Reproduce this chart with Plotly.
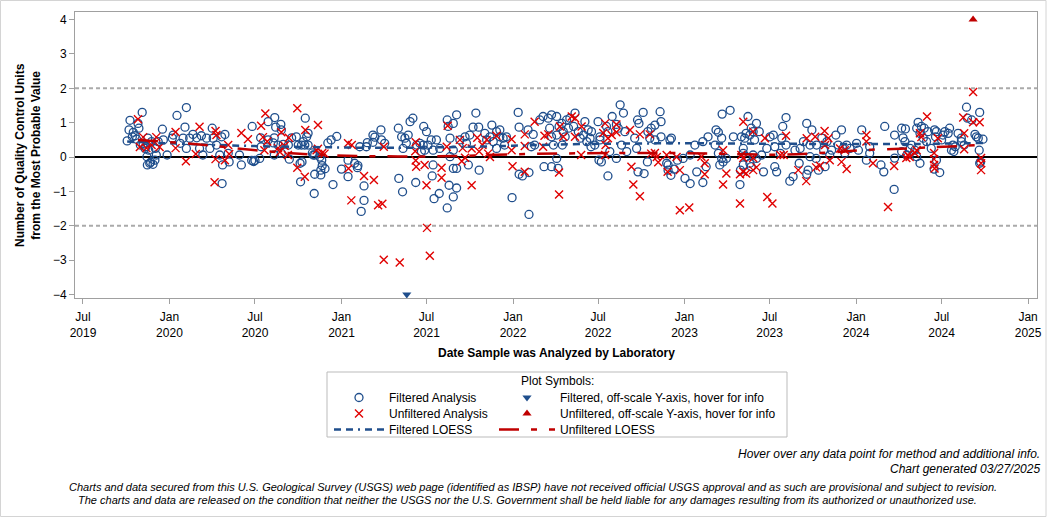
import plotly.graph_objects as go

# ---------------- data ----------------
filtered_points = [
    ("2019-10-03", 0.47), ("2019-10-07", 0.79), ("2019-10-09", 1.07), ("2019-10-14", 0.59), ("2019-10-16", 0.72),
    ("2019-10-20", 0.62), ("2019-10-23", 0.52), ("2019-10-26", 0.98), ("2019-10-28", 0.84), ("2019-10-31", 0.35),
    ("2019-11-04", 1.30), ("2019-11-06", 0.38), ("2019-11-10", 0.25), ("2019-11-12", 0.30), ("2019-11-14", 0.01),
    ("2019-11-15", -0.23), ("2019-11-16", 0.55), ("2019-11-18", 0.20), ("2019-11-20", -0.18), ("2019-11-22", -0.15),
    ("2019-11-24", 0.45), ("2019-11-27", -0.21), ("2019-12-01", -0.09), ("2019-12-02", 0.25), ("2019-12-04", 0.06),
    ("2019-12-08", 0.45), ("2019-12-17", 0.81), ("2019-12-19", 0.50), ("2019-12-27", 0.06),
    ("2020-01-07", 0.55), ("2020-01-09", 0.64), ("2020-01-17", 1.21), ("2020-01-24", 0.40), ("2020-01-30", 0.55),
    ("2020-02-03", 0.87), ("2020-02-06", 1.44), ("2020-02-06", 0.25), ("2020-02-13", 0.55), ("2020-02-20", 0.66),
    ("2020-02-28", 0.56), ("2020-03-05", 0.25), ("2020-03-09", 0.62), ("2020-03-12", 0.06), ("2020-03-20", 0.55),
    ("2020-03-27", 0.25), ("2020-04-01", 0.84), ("2020-04-03", 0.55), ("2020-04-10", 0.35), ("2020-04-17", 0.06),
    ("2020-04-21", 0.59), ("2020-04-22", -0.77), ("2020-04-23", -0.23), ("2020-04-28", 0.66), ("2020-05-05", 0.11),
    ("2020-05-07", -0.14), ("2020-05-29", 0.06), ("2020-06-02", -0.23),
    ("2020-06-24", -0.10), ("2020-06-25", 0.89), ("2020-06-28", -0.13), ("2020-07-01", -0.10), ("2020-07-11", -0.04),
    ("2020-07-13", 0.56), ("2020-07-14", 0.30), ("2020-07-29", 1.03), ("2020-07-29", 0.50), ("2020-08-09", 0.41),
    ("2020-08-11", 0.56), ("2020-08-11", 0.06), ("2020-08-12", 1.15), ("2020-08-14", 0.87), ("2020-08-19", 0.35),
    ("2020-08-25", 0.95), ("2020-08-26", 0.79), ("2020-08-26", 0.11), ("2020-08-30", 0.37), ("2020-09-10", 0.35),
    ("2020-09-12", -0.06), ("2020-09-17", 0.56), ("2020-09-27", 0.59), ("2020-10-01", 0.35), ("2020-10-05", -0.18),
    ("2020-10-06", -0.72), ("2020-10-08", 0.35), ("2020-10-09", -0.14), ("2020-10-12", 0.45), ("2020-10-15", 0.35),
    ("2020-10-16", 1.13), ("2020-10-19", 0.59), ("2020-10-22", 0.35), ("2020-10-22", 0.69), ("2020-10-31", 0.12),
    ("2020-11-02", 0.06), ("2020-11-04", -1.06), ("2020-11-05", 0.06), ("2020-11-05", -0.50), ("2020-11-16", 0.00),
    ("2020-11-18", -0.38), ("2020-11-18", -0.52), ("2020-11-20", -0.09), ("2020-11-21", -0.25), ("2020-11-27", -0.34),
    ("2020-12-03", 0.41), ("2020-12-10", 0.50), ("2020-12-14", -0.80), ("2020-12-22", 0.60),
    ("2021-01-01", -0.35), ("2021-01-15", -0.09), ("2021-01-15", -0.57), ("2021-01-29", -0.18), ("2021-02-04", -0.31),
    ("2021-02-05", -0.25), ("2021-02-09", 0.30), ("2021-02-12", -1.58), ("2021-02-18", -0.84), ("2021-02-18", -1.26),
    ("2021-02-23", 0.30), ("2021-02-25", 0.42), ("2021-03-09", 0.43), ("2021-03-09", 0.64), ("2021-03-13", 0.58),
    ("2021-03-26", 0.79), ("2021-03-27", 0.50), ("2021-04-03", 0.40),
    ("2021-05-02", 0.84), ("2021-05-03", -0.62), ("2021-05-09", 0.59), ("2021-05-11", -1.01), ("2021-05-12", 0.25),
    ("2021-05-16", 0.55), ("2021-05-19", 0.40), ("2021-05-23", 0.64), ("2021-05-27", 1.03), ("2021-06-02", 1.13),
    ("2021-06-08", -0.74), ("2021-06-10", 0.35), ("2021-06-17", 0.40), ("2021-06-20", 0.16), ("2021-06-24", 0.35),
    ("2021-06-25", 0.89), ("2021-06-27", 0.20), ("2021-07-01", 0.74), ("2021-07-04", 0.35), ("2021-07-11", 0.50),
    ("2021-07-13", -0.55), ("2021-07-15", 0.20), ("2021-07-15", -0.23), ("2021-07-17", -1.21), ("2021-07-22", 0.50),
    ("2021-07-28", -1.06), ("2021-07-29", 0.25), ("2021-08-14", 1.08), ("2021-08-14", -1.48), ("2021-08-16", 0.89),
    ("2021-08-18", -0.82), ("2021-08-20", 0.55), ("2021-08-20", 0.01), ("2021-08-27", 0.98), ("2021-08-27", 0.20),
    ("2021-08-27", -0.33), ("2021-08-27", -1.16), ("2021-09-03", 1.23), ("2021-09-03", -0.33), ("2021-09-03", -0.90),
    ("2021-09-10", 0.50), ("2021-09-21", 0.59), ("2021-09-24", 0.40), ("2021-09-28", -0.23), ("2021-10-01", 0.64),
    ("2021-10-08", 0.87), ("2021-10-14", 1.28), ("2021-10-20", 0.87), ("2021-10-21", -0.38), ("2021-11-02", 0.69),
    ("2021-11-06", 0.50), ("2021-11-13", 0.59), ("2021-11-17", 0.93), ("2021-11-20", 0.45), ("2021-11-27", 0.74),
    ("2021-11-27", 0.25), ("2021-12-04", 0.79), ("2021-12-04", 0.59), ("2021-12-11", 0.55), ("2021-12-14", 0.35),
    ("2021-12-18", 0.59), ("2021-12-30", -1.18),
    ("2022-01-12", 1.30), ("2022-01-14", 0.87), ("2022-01-14", -0.50), ("2022-01-21", -0.55), ("2022-02-02", 0.79),
    ("2022-02-04", -1.67), ("2022-02-04", -0.45), ("2022-02-09", 0.30), ("2022-02-13", 0.66), ("2022-02-16", 0.35),
    ("2022-02-27", 1.08), ("2022-03-06", 1.18), ("2022-03-08", -0.28), ("2022-03-17", 1.13), ("2022-03-20", 0.84),
    ("2022-03-24", 1.23), ("2022-03-24", 0.59), ("2022-03-24", -0.28), ("2022-03-28", 0.35),
    ("2022-04-04", 1.18), ("2022-04-04", 0.64), ("2022-04-04", -0.04), ("2022-04-07", -0.33), ("2022-04-09", 0.89),
    ("2022-04-15", 0.98), ("2022-04-16", 0.35), ("2022-04-18", 0.74), ("2022-04-22", 0.59), ("2022-04-25", 1.08),
    ("2022-04-29", 0.84), ("2022-05-02", 1.13), ("2022-05-10", 0.89), ("2022-05-13", 1.28), ("2022-05-20", 0.74),
    ("2022-05-24", 0.55), ("2022-05-31", 0.64), ("2022-06-03", 1.03), ("2022-06-07", 0.45), ("2022-06-10", 0.79),
    ("2022-06-14", 0.55), ("2022-06-16", 0.30), ("2022-06-17", 0.74), ("2022-06-24", 0.35), ("2022-07-01", 1.03),
    ("2022-07-03", -0.09), ("2022-07-05", 0.59), ("2022-07-05", 0.50), ("2022-07-08", -0.14), ("2022-07-19", 0.89),
    ("2022-07-22", 0.74), ("2022-07-22", -0.55), ("2022-07-26", 0.16), ("2022-07-31", 1.18), ("2022-08-09", 0.95),
    ("2022-08-09", -0.04), ("2022-08-13", 0.84), ("2022-08-17", 1.52), ("2022-08-20", 0.35), ("2022-08-24", 1.28),
    ("2022-08-27", 0.74), ("2022-08-31", 0.16), ("2022-09-17", 0.55), ("2022-09-21", 0.25), ("2022-09-23", 1.08),
    ("2022-09-24", -0.43), ("2022-09-26", 0.98), ("2022-10-05", 1.30), ("2022-10-07", -0.48), ("2022-10-14", -0.14),
    ("2022-10-15", 0.74), ("2022-10-19", 0.55), ("2022-10-22", 0.84), ("2022-10-30", 0.93), ("2022-10-30", 0.50),
    ("2022-11-10", 1.32), ("2022-11-12", 1.03), ("2022-11-12", 0.59), ("2022-11-24", -0.18), ("2022-11-27", -0.23),
    ("2022-11-27", -0.38), ("2022-12-01", 0.50), ("2022-12-03", -0.53), ("2022-12-04", 0.55), ("2022-12-10", -0.35),
    ("2022-12-17", -0.09), ("2022-12-29", -0.04),
    ("2023-01-02", -0.62), ("2023-01-13", -0.77), ("2023-01-13", 0.06), ("2023-01-23", 0.35), ("2023-01-27", -0.43),
    ("2023-02-09", 0.45), ("2023-02-09", -0.74), ("2023-02-16", -0.28), ("2023-02-20", 0.59), ("2023-03-07", 0.35),
    ("2023-03-09", 0.79), ("2023-03-14", 0.72), ("2023-03-14", 0.11), ("2023-03-17", -0.23), ("2023-03-21", 0.55),
    ("2023-03-21", -0.04), ("2023-03-22", 1.25), ("2023-03-24", -0.14), ("2023-03-31", -0.04), ("2023-04-08", 1.36),
    ("2023-04-15", 0.59), ("2023-04-29", -0.80), ("2023-04-30", -0.38), ("2023-05-02", 0.59), ("2023-05-06", 0.25),
    ("2023-05-06", 0.11), ("2023-05-06", -0.23), ("2023-05-09", 0.55), ("2023-05-12", 0.69), ("2023-05-12", 0.01),
    ("2023-05-16", 1.18), ("2023-05-20", 0.64), ("2023-05-20", -0.18), ("2023-05-23", 0.84), ("2023-05-23", -0.28),
    ("2023-05-27", 0.74), ("2023-05-27", 0.06), ("2023-05-30", 0.50), ("2023-06-03", 0.98), ("2023-06-03", -0.04),
    ("2023-06-09", 0.74), ("2023-06-14", 0.06), ("2023-06-18", -0.43), ("2023-06-25", 0.25), ("2023-07-02", 0.59),
    ("2023-07-09", 0.64), ("2023-07-12", 0.30), ("2023-07-12", -0.28), ("2023-07-16", -0.43), ("2023-07-24", 0.11),
    ("2023-07-27", 0.55), ("2023-07-29", 0.89), ("2023-08-05", 1.15), ("2023-08-05", 0.35), ("2023-08-13", -0.70),
    ("2023-08-20", -0.57), ("2023-08-24", 0.20), ("2023-09-02", -0.18), ("2023-09-04", 0.25), ("2023-09-11", 0.45),
    ("2023-09-18", 0.98), ("2023-09-18", -0.50), ("2023-09-21", -0.38), ("2023-09-25", 0.35), ("2023-09-25", 0.01),
    ("2023-09-29", 0.79), ("2023-10-08", -0.04), ("2023-10-09", 0.35), ("2023-10-13", -0.38), ("2023-10-20", 0.55),
    ("2023-10-24", 0.20), ("2023-10-27", -0.28), ("2023-10-31", 0.45), ("2023-11-06", 0.06), ("2023-11-10", 0.20),
    ("2023-11-19", 0.64), ("2023-11-24", 0.35), ("2023-12-01", 0.79), ("2023-12-04", 0.25), ("2023-12-08", 0.11),
    ("2023-12-12", 0.35), ("2023-12-19", 0.25),
    ("2024-01-02", 0.40), ("2024-01-06", 0.20), ("2024-01-13", 0.79), ("2024-01-23", -0.09), ("2024-01-30", 0.30),
    ("2024-01-30", 0.11), ("2024-02-23", -0.23), ("2024-02-29", -0.43), ("2024-03-02", 0.89), ("2024-03-22", -0.94),
    ("2024-03-23", 0.64), ("2024-03-23", -0.03), ("2024-04-07", 0.84), ("2024-04-07", 0.16), ("2024-04-10", 0.56),
    ("2024-04-14", 0.45), ("2024-04-15", 0.82), ("2024-04-18", 0.06), ("2024-04-25", 0.25), ("2024-04-28", 0.35),
    ("2024-05-05", 0.20), ("2024-05-09", 0.01), ("2024-05-09", 0.84), ("2024-05-12", 1.01), ("2024-05-16", -0.18),
    ("2024-05-16", 0.69), ("2024-05-19", 0.89), ("2024-05-23", 0.55), ("2024-05-25", 0.84), ("2024-05-30", 0.45),
    ("2024-06-02", 0.74), ("2024-06-09", 0.25), ("2024-06-15", -0.35), ("2024-06-16", 0.79), ("2024-06-18", 0.59),
    ("2024-06-20", 0.74), ("2024-06-20", -0.09), ("2024-06-27", -0.45), ("2024-07-01", 0.50), ("2024-07-04", 0.64),
    ("2024-07-08", 0.74), ("2024-07-15", 0.69), ("2024-07-18", 0.84), ("2024-07-22", 0.20), ("2024-07-25", 0.35),
    ("2024-07-27", 0.16), ("2024-07-30", 0.30), ("2024-08-05", 0.69), ("2024-08-12", 0.55), ("2024-08-12", 0.45),
    ("2024-08-18", 0.35), ("2024-08-23", 1.45), ("2024-08-25", 1.13), ("2024-09-03", 1.08), ("2024-09-10", 0.66),
    ("2024-09-13", 0.59), ("2024-09-17", 0.55), ("2024-09-19", 0.20), ("2024-09-20", 1.30), ("2024-09-20", -0.18),
    ("2024-09-22", -0.14), ("2024-09-27", 0.52),
]

unfiltered_points = [
    ("2019-10-26", 1.10), ("2019-10-30", 0.29), ("2019-11-06", 0.58), ("2019-11-13", 0.26), ("2019-11-24", 0.35),
    ("2019-12-04", 0.58), ("2019-12-11", 0.29), ("2020-01-14", 0.73), ("2020-01-14", 0.26), ("2020-02-05", -0.12),
    ("2020-02-26", 0.09), ("2020-03-05", 0.88), ("2020-04-06", -0.73), ("2020-04-08", 0.76), ("2020-04-08", -0.06),
    ("2020-04-10", 0.64), ("2020-04-28", -0.09), ("2020-05-05", 0.35), ("2020-05-07", 0.09), ("2020-06-02", 0.70),
    ("2020-06-16", 0.52), ("2020-07-14", 0.91), ("2020-07-18", 0.58), ("2020-07-21", 0.20), ("2020-07-23", 1.27),
    ("2020-07-27", 0.45), ("2020-08-19", 0.26), ("2020-08-23", 0.15), ("2020-08-26", 0.72), ("2020-09-02", 0.33),
    ("2020-09-09", 0.06), ("2020-09-11", 0.56), ("2020-09-29", 1.42), ("2020-09-29", -0.31), ("2020-10-15", -0.57),
    ("2020-10-16", 0.79), ("2020-11-09", 0.20), ("2020-11-12", 0.93), ("2020-11-12", 0.24), ("2020-11-21", 0.12),
    ("2020-11-26", 0.10),
    ("2021-01-15", 0.40), ("2021-01-16", -0.33), ("2021-01-22", -1.26), ("2021-01-23", 0.35), ("2021-02-18", -0.55),
    ("2021-03-11", -0.67), ("2021-03-20", -1.40), ("2021-03-29", -1.36), ("2021-04-01", 0.30), ("2021-04-01", -2.99),
    ("2021-05-05", -3.07), ("2021-06-07", 0.17), ("2021-06-08", 0.43), ("2021-06-08", -0.10), ("2021-06-09", -0.28),
    ("2021-06-27", -0.23), ("2021-07-01", -0.82), ("2021-07-02", -2.06), ("2021-07-08", -2.87), ("2021-08-02", -0.31),
    ("2021-08-02", -0.60), ("2021-08-13", 0.30), ("2021-08-15", 0.91), ("2021-09-10", 0.50), ("2021-09-14", -0.12),
    ("2021-09-16", 0.26), ("2021-09-21", -0.02), ("2021-10-05", 0.25), ("2021-10-05", -0.82), ("2021-10-17", 0.56),
    ("2021-10-21", 0.16), ("2021-10-28", 0.35), ("2021-11-06", 0.50), ("2021-11-09", 0.10), ("2021-11-13", 0.00),
    ("2021-11-27", 0.62), ("2021-12-29", 0.52), ("2021-12-29", 0.20), ("2021-12-31", -0.27),
    ("2022-01-26", 0.66), ("2022-01-26", 0.32), ("2022-01-26", -0.43), ("2022-02-16", 1.03), ("2022-03-06", 0.30),
    ("2022-03-09", 0.62), ("2022-03-17", 0.66), ("2022-04-09", -0.45), ("2022-04-09", -1.09), ("2022-04-11", 0.89),
    ("2022-04-18", 0.59), ("2022-05-06", 1.18), ("2022-05-13", 1.13), ("2022-05-13", 0.59), ("2022-05-26", 0.06),
    ("2022-05-27", 0.89), ("2022-07-12", 0.70), ("2022-07-16", 0.98), ("2022-07-16", 0.06), ("2022-07-17", 0.35),
    ("2022-07-22", 0.55), ("2022-07-30", 0.64), ("2022-08-09", 0.95), ("2022-08-09", 0.72), ("2022-09-07", 0.79),
    ("2022-09-10", -0.28), ("2022-09-14", -0.80), ("2022-09-28", 0.66), ("2022-09-28", -1.14), ("2022-10-19", 0.66),
    ("2022-10-22", 0.10), ("2022-10-30", 0.12), ("2022-11-03", 0.00), ("2022-11-06", -0.15), ("2022-11-24", 0.06),
    ("2022-11-26", -0.43), ("2022-12-15", 0.00), ("2022-12-22", -0.38), ("2022-12-22", -1.55),
    ("2023-01-11", -1.47), ("2023-02-06", 0.01), ("2023-02-13", -0.18), ("2023-02-13", -0.50), ("2023-03-24", 0.20),
    ("2023-03-24", -0.80), ("2023-03-31", -0.48), ("2023-04-29", -0.50), ("2023-04-29", -1.35), ("2023-05-02", 0.06),
    ("2023-05-06", 1.03), ("2023-05-06", -0.03), ("2023-05-06", -0.43), ("2023-05-12", -0.48), ("2023-05-27", 0.74),
    ("2023-05-27", -0.03), ("2023-05-27", -0.38), ("2023-06-03", -0.30), ("2023-06-21", 0.55), ("2023-06-26", -1.16),
    ("2023-07-07", -1.35), ("2023-07-24", 0.06), ("2023-07-31", 0.06), ("2023-08-05", 0.62), ("2023-08-31", -0.38),
    ("2023-09-17", -0.70), ("2023-09-18", 0.55), ("2023-10-06", 0.59), ("2023-10-08", -0.30), ("2023-10-16", -0.25),
    ("2023-10-26", 0.76), ("2023-10-27", 0.35), ("2023-11-03", 0.55), ("2023-11-06", -0.09), ("2023-11-28", 0.25),
    ("2023-12-01", -0.14), ("2023-12-08", 0.20), ("2023-12-12", -0.35),
    ("2024-01-23", 0.64), ("2024-01-23", 0.45), ("2024-02-06", -0.18), ("2024-03-09", -1.45), ("2024-03-22", -0.26),
    ("2024-04-17", -0.03), ("2024-04-20", 0.06), ("2024-04-24", 0.00), ("2024-05-05", 0.12), ("2024-05-09", 0.20),
    ("2024-05-16", 0.69), ("2024-05-19", 0.58), ("2024-05-31", 1.18), ("2024-06-15", 0.12), ("2024-06-15", -0.06),
    ("2024-06-15", -0.23), ("2024-06-16", -0.33), ("2024-06-23", 0.55), ("2024-08-16", 1.15), ("2024-08-18", 0.69),
    ("2024-08-18", 0.23), ("2024-09-06", 1.01), ("2024-09-06", 1.89), ("2024-09-20", 1.01), ("2024-09-23", -0.03),
    ("2024-09-23", -0.18), ("2024-09-23", -0.38),
]

# off-scale points, shown pinned at the axis limit
offscale_filtered_dates = ["2021-05-20"]
offscale_filtered_values = [-4.0]
offscale_unfiltered_dates = ["2024-09-06"]
offscale_unfiltered_values = [4.0]

# LOESS curves
loess_filtered_dates = ["2019-10-03", "2020-01-01", "2020-06-01", "2020-11-01", "2021-04-01", "2021-09-01",
                        "2022-01-01", "2022-06-01", "2022-12-01", "2023-06-01", "2023-12-01", "2024-05-01", "2024-09-27"]
loess_filtered_values = [0.45, 0.40, 0.33, 0.29, 0.27, 0.29, 0.33, 0.38, 0.40, 0.39, 0.38, 0.38, 0.41]
loess_unfiltered_dates = ["2019-10-26", "2020-03-10", "2020-08-01", "2020-12-15", "2021-05-01", "2021-09-01",
                          "2022-01-01", "2022-06-01", "2022-12-01", "2023-04-01", "2023-08-01", "2023-11-01",
                          "2024-01-15", "2024-05-01", "2024-09-23"]
loess_unfiltered_values = [0.50, 0.36, 0.16, 0.05, 0.02, 0.03, 0.08, 0.11, 0.12, 0.09, 0.07, 0.13, 0.20, 0.26, 0.35]

x_tick_dates = ["2019-07-01", "2020-01-01", "2020-07-01", "2021-01-01", "2021-07-01", "2022-01-01",
                "2022-07-01", "2023-01-01", "2023-07-01", "2024-01-01", "2024-07-01", "2025-01-01"]
x_tick_labels = ["Jul<br>2019", "Jan<br>2020", "Jul<br>2020", "Jan<br>2021", "Jul<br>2021", "Jan<br>2022",
                 "Jul<br>2022", "Jan<br>2023", "Jul<br>2023", "Jan<br>2024", "Jul<br>2024", "Jan<br>2025"]
y_tick_values = [-4, -3, -2, -1, 0, 1, 2, 3, 4]

# ---------------- styling ----------------
BLUE = "#1f4e8c"
RED = "#e00000"
DRED = "#c00000"
AXIS = "#a0a0a0"
FONT = "Liberation Sans, Arial, Helvetica, sans-serif"

# plot area in pixels (for paper-coordinate conversions)
L, R, T, B, W, H = 75, 19, 12, 220, 1056, 518
PW, PH = W - L - R, H - T - B


def px(xp):
    return (xp - L) / PW


def py(yp):
    return (H - B - yp) / PH


fd = [d for d, _ in filtered_points]
fv = [v for _, v in filtered_points]
ud = [d for d, _ in unfiltered_points]
uv = [v for _, v in unfiltered_points]

fig = go.Figure()
fig.add_trace(go.Scatter(
    x=fd, y=fv, mode="markers", name="Filtered Analysis", legend="legend",
    marker=dict(symbol="circle-open", size=8, color=BLUE, line=dict(width=1.3, color=BLUE))))
fig.add_trace(go.Scatter(
    x=ud, y=uv, mode="markers", name="Unfiltered Analysis", legend="legend3",
    marker=dict(symbol="x-thin-open", size=8, color=RED, line=dict(width=1.4, color=RED))))
fig.add_trace(go.Scatter(
    x=loess_filtered_dates, y=loess_filtered_values, mode="lines", name="Filtered LOESS", legend="legend5",
    line=dict(color=BLUE, width=2.5, dash="7px,5px,7px,5px,2px,5px", shape="spline")))
fig.add_trace(go.Scatter(
    x=offscale_filtered_dates, y=offscale_filtered_values, mode="markers", cliponaxis=False,
    name="Filtered, off-scale Y-axis, hover for info", legend="legend2",
    marker=dict(symbol="triangle-down", size=8, color=BLUE)))
fig.add_trace(go.Scatter(
    x=offscale_unfiltered_dates, y=offscale_unfiltered_values, mode="markers", cliponaxis=False,
    name="Unfiltered, off-scale Y-axis, hover for info", legend="legend4",
    marker=dict(symbol="triangle-up", size=8, color=DRED)))
fig.add_trace(go.Scatter(
    x=loess_unfiltered_dates, y=loess_unfiltered_values, mode="lines", name="Unfiltered LOESS", legend="legend6",
    line=dict(color=DRED, width=2.5, dash="20px,12px,6px,12px", shape="spline")))


def legend_at(x_px, row_center_px, item_w):
    return dict(orientation="v", bgcolor="rgba(0,0,0,0)", borderwidth=0, itemwidth=item_w,
                font=dict(family=FONT, size=12, color="black"), xanchor="left", yanchor="top",
                x=px(x_px), y=py(row_center_px - 14), itemclick=False, itemdoubleclick=False)


shapes = [
    dict(type="line", xref="paper", yref="y", x0=0, x1=1, y0=2, y1=2, layer="below",
         line=dict(color="#aaaaaa", width=2, dash="4px,3px")),
    dict(type="line", xref="paper", yref="y", x0=0, x1=1, y0=-2, y1=-2, layer="below",
         line=dict(color="#aaaaaa", width=2, dash="4px,3px")),
    dict(type="line", xref="paper", yref="y", x0=0, x1=1, y0=0, y1=0, layer="below",
         line=dict(color="black", width=2)),
    # legend frame
    dict(type="rect", xref="paper", yref="paper", x0=px(327), x1=px(787), y0=py(437), y1=py(372),
         line=dict(color="#bbbbbb", width=1), fillcolor="rgba(0,0,0,0)"),
    # outer chart frame
    dict(type="rect", xref="paper", yref="paper", x0=px(0.5), x1=px(1046), y0=py(516.5), y1=py(0.5),
         line=dict(color="#d4d4d4", width=1), fillcolor="rgba(0,0,0,0)"),
]

annotations = [
    dict(text="<b>Number of Quality Control Units<br>from the Most Probable Value</b>", textangle=-90,
         xref="paper", yref="paper", x=px(28), y=0.5, xanchor="center", yanchor="middle", showarrow=False,
         font=dict(family=FONT, size=12, color="black")),
    dict(text="<b>Date Sample was Analyzed by Laboratory</b>", xref="paper", yref="paper",
         x=0.5, y=py(353), xanchor="center", yanchor="middle", showarrow=False,
         font=dict(family=FONT, size=12, color="black")),
    dict(text="Plot Symbols:", xref="paper", yref="paper", x=px(557), y=py(381), xanchor="center",
         yanchor="middle", showarrow=False, font=dict(family=FONT, size=12, color="black")),
    dict(text="<i>Hover over any data point for method and additional info.</i>", xref="paper", yref="paper",
         x=px(1042), y=py(454), xanchor="right", yanchor="middle", showarrow=False,
         font=dict(family=FONT, size=12, color="black")),
    dict(text="<i>Chart generated 03/27/2025</i>", xref="paper", yref="paper",
         x=px(1042), y=py(469), xanchor="right", yanchor="middle", showarrow=False,
         font=dict(family=FONT, size=12, color="black")),
    dict(text="<i>Charts and data secured from this U.S. Geological Survey (USGS) web page (identified as IBSP) "
              "have not received official USGS approval and as such are provisional and subject to revision.</i>",
         xref="paper", yref="paper", x=px(533), y=py(487), xanchor="center", yanchor="middle", showarrow=False,
         font=dict(family=FONT, size=11, color="black")),
    dict(text="<i>The charts and data are released on the condition that neither the USGS nor the U.S. Government "
              "shall be held liable for any damages resulting from its authorized or unauthorized use.</i>",
         xref="paper", yref="paper", x=px(527), y=py(500), xanchor="center", yanchor="middle", showarrow=False,
         font=dict(family=FONT, size=11, color="black")),
]

fig.update_layout(
    width=W, height=H, margin=dict(l=L, r=R, t=T, b=B, pad=0),
    paper_bgcolor="white", plot_bgcolor="white",
    font=dict(family=FONT, size=12, color="black"),
    showlegend=True,
    legend=legend_at(329, 397, 50),
    legend3=legend_at(329, 413, 50),
    legend5=legend_at(329, 429, 50),
    legend2=legend_at(494, 397, 56),
    legend4=legend_at(494, 413, 56),
    legend6=legend_at(494, 429, 56),
    shapes=shapes, annotations=annotations,
    xaxis=dict(type="date", range=["2019-06-14", "2025-01-20"], tickvals=x_tick_dates, ticktext=x_tick_labels,
               ticks="outside", ticklen=5, tickcolor=AXIS, showline=True, linecolor=AXIS, linewidth=1,
               mirror=True, showgrid=False, zeroline=False, ticklabelstandoff=3,
               tickfont=dict(family=FONT, size=12, color="black")),
    yaxis=dict(range=[-4.10, 4.22], tickvals=y_tick_values, ticks="outside", ticklen=5, tickcolor=AXIS,
               showline=True, linecolor=AXIS, linewidth=1, mirror=True, showgrid=False, zeroline=False,
               tickfont=dict(family=FONT, size=12, color="black")),
    hovermode="closest",
)

fig.write_html("out.html", config={"displayModeBar": False})
